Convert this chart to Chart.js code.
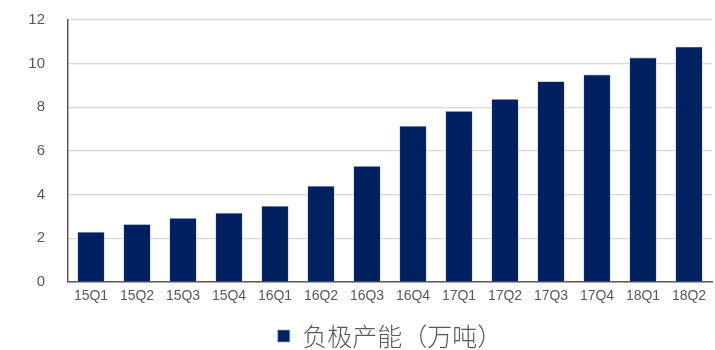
<!DOCTYPE html>
<html>
<head>
<meta charset="utf-8">
<script src="https://cdn.jsdelivr.net/npm/chart.js@4"></script>
<style>
  html, body { margin: 0; padding: 0; background: #fff; overflow: hidden; }
  #wrap { width: 715px; height: 350px; }
</style>
</head>
<body>
<div id="wrap"><canvas id="c"></canvas></div>
<script>
var quarters = ["15Q1", "15Q2", "15Q3", "15Q4", "16Q1", "16Q2", "16Q3",
                "16Q4", "17Q1", "17Q2", "17Q3", "17Q4", "18Q1", "18Q2"];
var capacity = [2.3, 2.65, 2.93, 3.17, 3.48, 4.4, 5.31,
                7.15, 7.83, 8.38, 9.19, 9.5, 10.28, 10.78];
var yTicks = [0, 2, 4, 6, 8, 10, 12];
var seriesName = "负极产能（万吨）";

var grey = "#595959";

new Chart(document.getElementById("c"), {
    type: "bar",
    data: {
        labels: quarters,
        datasets: [{
            label: seriesName,
            data: capacity,
            backgroundColor: "#002060",
            borderColor: "#9aa8c8",
            borderWidth: 0.6,
            barPercentage: 0.59,
            categoryPercentage: 1
        }]
    },
    options: {
        responsive: true,
        maintainAspectRatio: false,
        animation: false,
        // negative bottom padding lets the legend sit lower than chart.js would put it
        layout: { padding: { top: 20, right: 3, left: 0, bottom: -8.5 } },
        plugins: {
            tooltip: { enabled: false },
            legend: {
                position: "bottom",
                fullSize: false,
                labels: {
                    color: grey,
                    boxWidth: 12,
                    boxHeight: 12,
                    padding: 6,
                    font: { family: "'Noto Sans CJK SC', sans-serif", size: 25, weight: 300 }
                }
            }
        },
        scales: {
            x: {
                grid: { display: false, drawTicks: false },
                border: { color: grey, width: 1.5 },
                ticks: {
                    color: grey,
                    padding: 6,
                    maxRotation: 0,
                    autoSkip: false,
                    font: { family: "'Liberation Sans', sans-serif", size: 14 }
                },
                afterFit: function(s) { s.height = 35.5; }
            },
            y: {
                min: 0,
                max: 12,
                afterBuildTicks: function(s) {
                    s.ticks = yTicks.map(function(v) { return { value: v }; });
                },
                // long invisible tick marks keep the labels away from the axis
                // without the extra top space that ticks.padding would add
                grid: { color: "#d9d9d9", lineWidth: 1.2, tickLength: 21, tickColor: "rgba(0,0,0,0)" },
                border: { color: grey, width: 1.5 },
                ticks: {
                    color: grey,
                    padding: 2,
                    font: { family: "'Liberation Sans', sans-serif", size: 15 }
                },
                afterFit: function(s) { s.width = 68; }
            }
        }
    }
});
</script>
</body>
</html>
